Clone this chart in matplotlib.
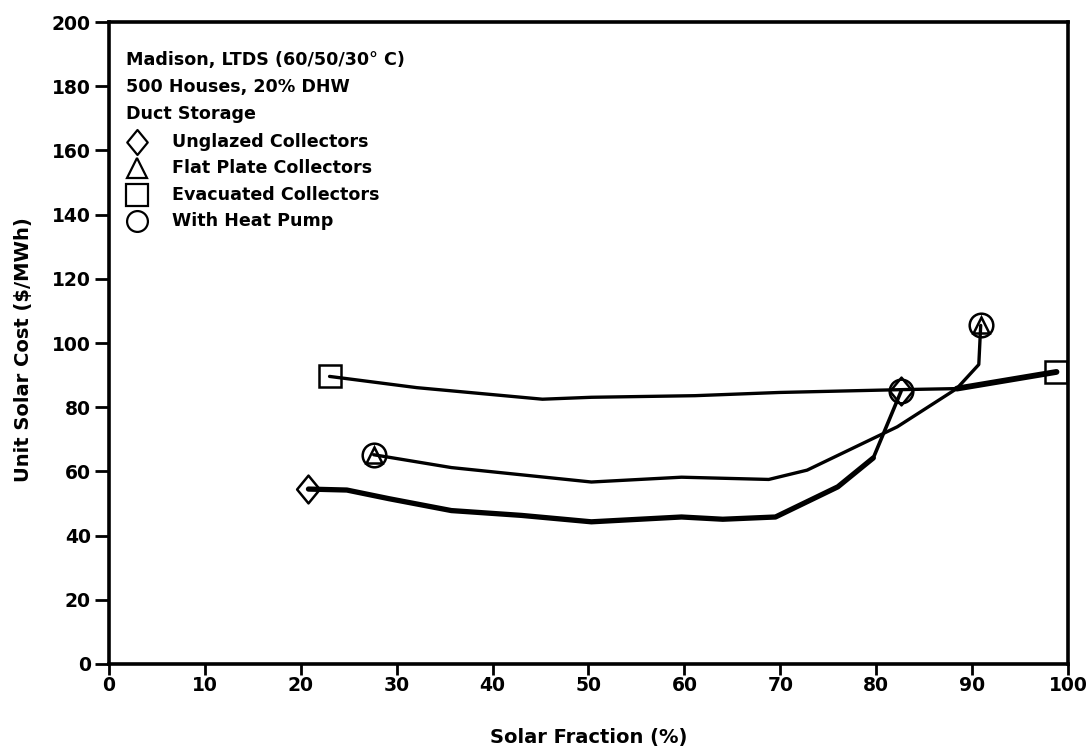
import matplotlib
matplotlib.use("Agg")
import matplotlib.pyplot as plt
from matplotlib.path import Path

plt.rcParams['font.family'] = ['DejaVu Sans']
plt.rcParams['font.weight'] = 'bold'

# Unglazed collectors
unglazed_x = [20.8, 24.8, 29.2, 35.7, 43.0, 50.3, 59.7, 64.0, 69.5, 76.0, 79.7, 82.6]
unglazed_y = [54.5, 54.2, 51.5, 47.8, 46.3, 44.3, 45.8, 45.1, 45.8, 55.2, 64.2, 85.0]

# Flat plate collectors
flat_x = [27.6, 35.7, 50.3, 59.7, 68.8, 72.8, 82.2, 88.4, 90.7, 90.9]
flat_y = [65.2, 61.2, 56.7, 58.2, 57.5, 60.4, 73.9, 85.8, 93.3, 105.5]

# Evacuated collectors
evac_x = [23.0, 32.1, 45.2, 50.3, 61.1, 69.9, 82.9, 88.4, 98.8]
evac_y = [89.6, 86.1, 82.5, 83.1, 83.6, 84.6, 85.5, 85.8, 91.0]

# End-point markers
diamond_pts = [(20.8, 54.5), (82.6, 85.0)]
triangle_pts = [(27.6, 65.2), (90.9, 105.5)]
square_pts = [(23.0, 89.6), (98.8, 91.0)]
heat_pump_pts = [(27.6, 65.2), (82.6, 85.0), (90.9, 105.5)]

x_ticks = [0, 10, 20, 30, 40, 50, 60, 70, 80, 90, 100]
y_ticks = [0, 20, 40, 60, 80, 100, 120, 140, 160, 180, 200]

header_lines = ["Madison, LTDS (60/50/30\u00b0 C)", "500 Houses, 20% DHW", "Duct Storage"]
legend_labels = ["Unglazed Collectors", "Flat Plate Collectors",
                 "Evacuated Collectors", "With Heat Pump"]

diamond = Path([(0, 1), (0.82, 0), (0, -1), (-0.82, 0), (0, 1)],
               [Path.MOVETO, Path.LINETO, Path.LINETO, Path.LINETO, Path.CLOSEPOLY])

fig = plt.figure(figsize=(10.91, 7.49), dpi=100)
ax = fig.add_axes([0.0999, 0.1135, 0.879, 0.857])

line_kw = dict(color='black', solid_capstyle='round', solid_joinstyle='round', zorder=3)
# heavy unglazed curve, lighter final rise to the heat-pump point
ax.plot(unglazed_x[:-1], unglazed_y[:-1], lw=3.8, **line_kw)
ax.plot(unglazed_x[-2:], unglazed_y[-2:], lw=2.6, **line_kw)
ax.plot(flat_x, flat_y, lw=2.4, **line_kw)
ax.plot(evac_x, evac_y, lw=2.4, **line_kw)
ax.plot(evac_x[-2:], evac_y[-2:], lw=4.2, **line_kw)

mk = dict(ls='none', mfc='none', mec='black', mew=1.8, zorder=4)
ax.plot([p[0] for p in diamond_pts], [p[1] for p in diamond_pts], marker=diamond, ms=20, **mk)
ax.plot([p[0] for p in triangle_pts], [p[1] for p in triangle_pts], marker='^', ms=12, **mk)
ax.plot([p[0] for p in square_pts], [p[1] for p in square_pts], marker='s', ms=16, **mk)
ax.plot([p[0] for p in heat_pump_pts], [p[1] for p in heat_pump_pts], marker='o', ms=17, **mk)

# Annotation block and marker key
row_y = [188.2, 179.8, 171.4, 162.6, 154.4, 146.2, 137.9]
for i, line in enumerate(header_lines):
    ax.text(1.8, row_y[i], line, fontsize=12.6, fontweight='bold', va='center', ha='left')
key_markers = [(diamond, 18), ('^', 15), ('s', 16), ('o', 15)]
for j, (label, (m, s)) in enumerate(zip(legend_labels, key_markers)):
    y = row_y[3 + j]
    ax.plot([2.9], [y], marker=m, ms=s, mfc='none', mec='black', mew=1.6, ls='none')
    ax.text(6.6, y, label, fontsize=12.6, fontweight='bold', va='center', ha='left')

ax.set_xlim(0, 100)
ax.set_ylim(0, 200)
ax.set_xticks(x_ticks)
ax.set_yticks(y_ticks)
ax.tick_params(axis='x', direction='out', length=8, width=2.0, labelsize=13.5, pad=0.5,
               top=False)
ax.tick_params(axis='y', direction='out', length=10, width=2.0, labelsize=13.5, pad=3,
               right=False)
for lab in ax.get_xticklabels() + ax.get_yticklabels():
    lab.set_fontweight('bold')
for side in ['left', 'right', 'top', 'bottom']:
    ax.spines[side].set_linewidth(2.6)

ax.set_xlabel("Solar Fraction (%)", fontsize=14, fontweight='bold')
ax.xaxis.set_label_coords(0.5, -0.115)
ax.xaxis.label.set_va('center')
ax.set_ylabel("Unit Solar Cost ($/MWh)", fontsize=14, fontweight='bold')
ax.yaxis.set_label_coords(-0.089, 0.49)
ax.yaxis.label.set_va('center')

fig.savefig("out.png", dpi=100, facecolor='white')
